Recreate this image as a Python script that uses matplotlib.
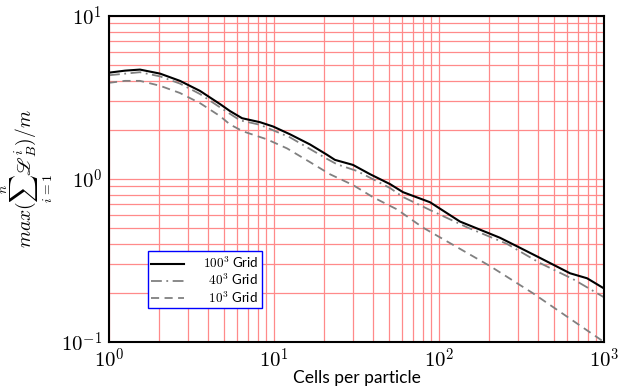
import matplotlib
matplotlib.use("Agg")
import matplotlib.pyplot as plt
from matplotlib.ticker import FuncFormatter
import numpy as np

plt.rcParams["mathtext.fontset"] = "cm"
plt.rcParams["font.family"] = ["Lato", "DejaVu Sans"]

# 100^3 grid
x_100 = [1.0, 1.25, 1.54, 2.04, 2.69, 3.56, 4.71, 5.41, 6.40, 8.23, 9.86, 12.5,
         16.5, 20.9, 23.4, 30.1, 38.2, 50.5, 60.5, 88.2, 134, 234, 310, 409,
         622, 789, 1000]
y_100 = [4.49, 4.62, 4.69, 4.43, 4.0, 3.47, 2.88, 2.61, 2.36, 2.23, 2.10, 1.88,
         1.63, 1.41, 1.31, 1.22, 1.07, 0.93, 0.83, 0.72, 0.548, 0.436, 0.378,
         0.328, 0.264, 0.246, 0.213]

# 40^3 grid
x_40 = [1.0, 1.54, 2.04, 2.69, 3.56, 4.71, 6.22, 8.23, 12.5, 20.9, 24.1, 31.8,
        50.5, 60.5, 88.2, 148, 258, 409, 649, 1000]
y_40 = [4.33, 4.52, 4.26, 3.85, 3.32, 2.75, 2.29, 2.15, 1.80, 1.33, 1.23, 1.12,
        0.88, 0.775, 0.645, 0.505, 0.400, 0.305, 0.243, 0.188]

# 10^3 grid
x_10 = [1.0, 1.25, 1.54, 2.04, 2.69, 3.56, 4.71, 5.41, 6.49, 9.07, 12.0, 16.5,
        21.8, 30.1, 39.8, 55.6, 80, 204, 371, 597, 1000]
y_10 = [3.89, 4.0, 4.0, 3.73, 3.37, 2.92, 2.43, 2.16, 1.96, 1.75, 1.54, 1.27,
        1.07, 0.918, 0.773, 0.651, 0.503, 0.292, 0.199, 0.143, 0.1]

labels = [r"$100^3$ Grid", r"$\,\,\,40^3$ Grid", r"$\,\,\,10^3$ Grid"]

fig = plt.figure(figsize=(6.24, 3.88), dpi=100)
ax = fig.add_axes([0.1747, 0.1186, 0.7933, 0.8402])

ax.loglog(x_100, y_100, color="black", lw=1.5, label=labels[0])
ax.loglog(x_40, y_40, color="#808080", lw=1.3, linestyle=(0, (6, 2.5, 1, 2.5)),
          label=labels[1])
ax.loglog(x_10, y_10, color="#808080", lw=1.3, linestyle=(0, (4.5, 3)),
          label=labels[2])

ax.set_xlim(1, 1000)
ax.set_ylim(0.1, 10)

# powers of ten in computer modern
pow_fmt = FuncFormatter(lambda v, pos: r"$10^{%d}$" % int(round(np.log10(v))))
ax.xaxis.set_major_formatter(pow_fmt)
ax.yaxis.set_major_formatter(pow_fmt)

ax.grid(True, which="both", color="#ff8a8a", lw=0.9)
ax.set_axisbelow(True)
ax.tick_params(which="both", direction="in", length=0, labelsize=15)
ax.tick_params(axis="x", pad=4)
ax.tick_params(axis="y", pad=5)
for s in ax.spines.values():
    s.set_linewidth(1.5)

ax.set_xlabel("Cells per particle", fontsize=12.5, labelpad=-1)
ax.set_ylabel(r"$max(\sum_{i=1}^{n}\mathscr{L}_B^i)/m$", fontsize=14, labelpad=4)

leg = ax.legend(loc="lower left", bbox_to_anchor=(0.079, 0.104), fontsize=9.5,
                fancybox=False, framealpha=1, handlelength=2.5,
                borderaxespad=0, borderpad=0.25, labelspacing=0.15,
                handletextpad=1.4)
leg.get_frame().set_edgecolor("blue")
leg.get_frame().set_linewidth(1.0)

fig.savefig("out.png", dpi=100)
